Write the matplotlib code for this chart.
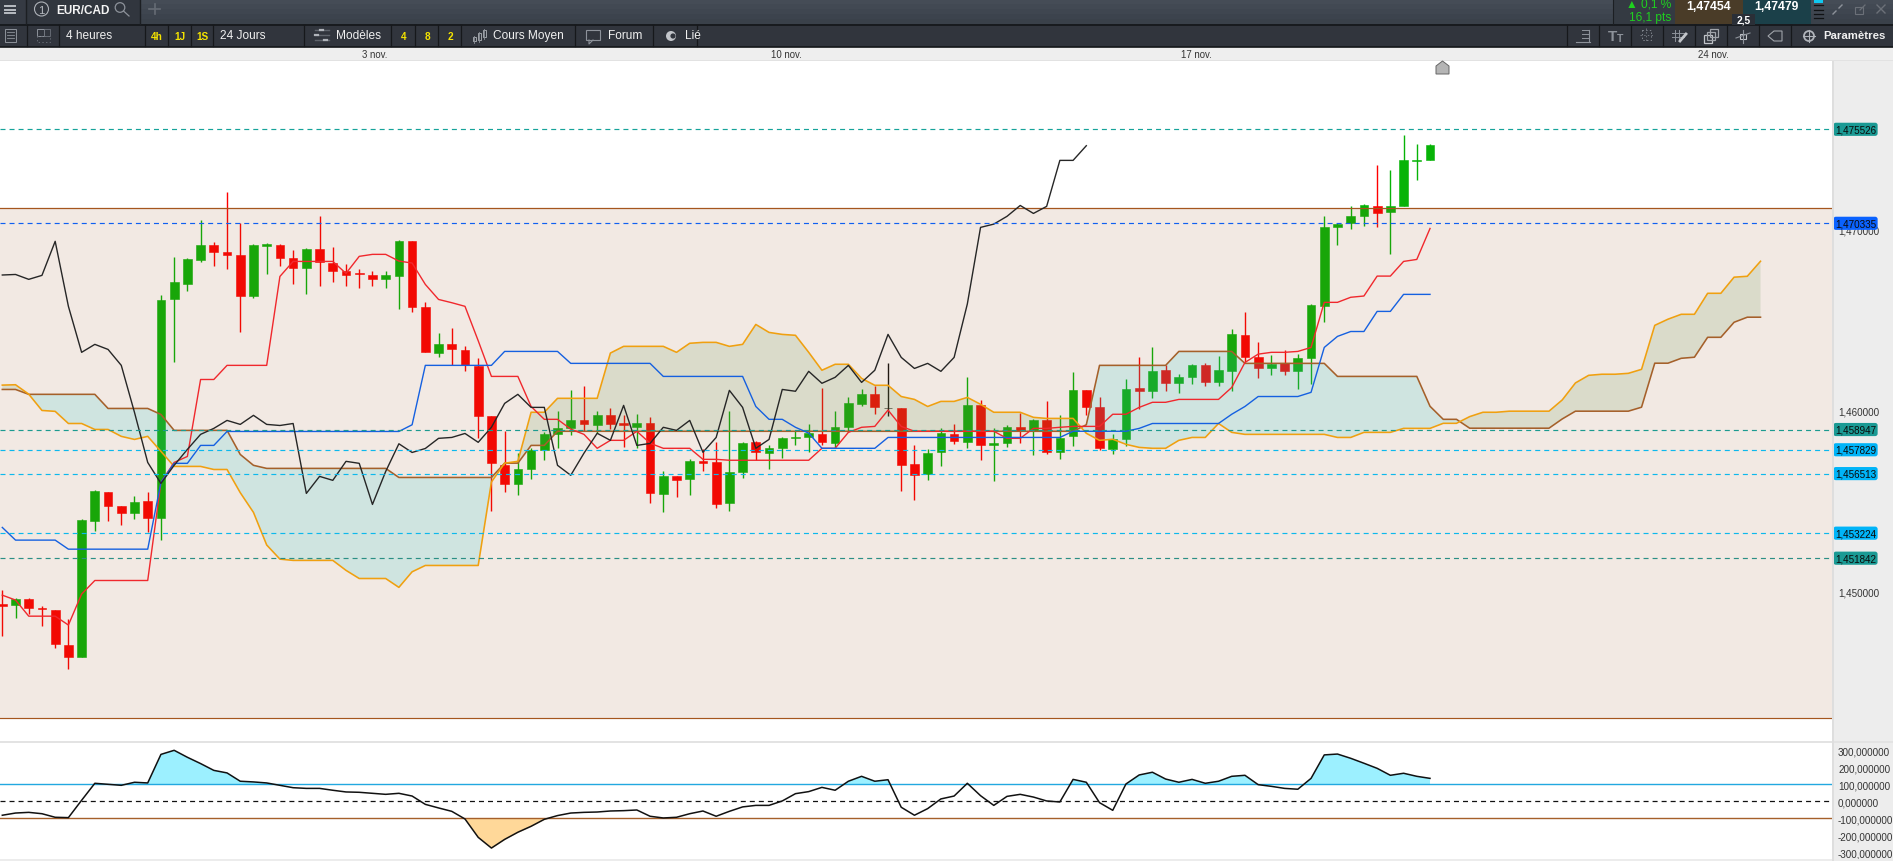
#!/usr/bin/env python3
"""EUR/CAD 4h candlesticks with Ichimoku cloud and CCI, drawn as the trading platform screen."""

import matplotlib
matplotlib.use("Agg")
import matplotlib.pyplot as plt
import numpy as np
from matplotlib.patches import Circle, Polygon, Rectangle

plt.rcParams["font.family"] = ["Liberation Sans", "DejaVu Sans"]
plt.rcParams["lines.scale_dashes"] = False

candle_open = [
    1.44931, 1.44925, 1.44958, 1.44910, 1.44898, 1.44704, 1.44640, 1.45391, 1.45549, 1.45472,
    1.45435, 1.45500, 1.45408, 1.46617, 1.46700, 1.46832, 1.46913, 1.46875, 1.46858, 1.46633,
    1.46908, 1.46913, 1.46842, 1.46788, 1.46891, 1.46814, 1.46770, 1.46759, 1.46748, 1.46727,
    1.46744, 1.46935, 1.46571, 1.46319, 1.46367, 1.46333, 1.46247, 1.45969, 1.45698, 1.45593,
    1.45676, 1.45781, 1.45869, 1.45903, 1.45947, 1.45919, 1.45974, 1.45930, 1.45908, 1.45930,
    1.45538, 1.45638, 1.45621, 1.45720, 1.45715, 1.45488, 1.45660, 1.45825, 1.45765, 1.45792,
    1.45849, 1.45853, 1.45869, 1.45820, 1.45908, 1.46035, 1.46090, 1.46016, 1.46013, 1.45704,
    1.45649, 1.45770, 1.45869, 1.45825, 1.46030, 1.45809, 1.45820, 1.45908, 1.45886, 1.45947,
    1.45770, 1.45858, 1.46112, 1.46019, 1.45787, 1.45842, 1.46123, 1.46107, 1.46223, 1.46151,
    1.46184, 1.46251, 1.46157, 1.46217, 1.46416, 1.46295, 1.46234, 1.46262, 1.46217, 1.46289,
    1.46578, 1.47014, 1.47035, 1.47075, 1.47127, 1.47097, 1.47129, 1.47379, 1.47383,
]
candle_close = [
    1.44922, 1.44958, 1.44910, 1.44905, 1.44712, 1.44640, 1.45395, 1.45555, 1.45474, 1.45435,
    1.45494, 1.45408, 1.46610, 1.46709, 1.46836, 1.46913, 1.46876, 1.46860, 1.46633, 1.46913,
    1.46919, 1.46843, 1.46788, 1.46891, 1.46821, 1.46772, 1.46749, 1.46755, 1.46727, 1.46748,
    1.46935, 1.46573, 1.46324, 1.46367, 1.46341, 1.46251, 1.45971, 1.45709, 1.45593, 1.45676,
    1.45781, 1.45869, 1.45903, 1.45947, 1.45925, 1.45974, 1.45925, 1.45919, 1.45930, 1.45544,
    1.45638, 1.45615, 1.45720, 1.45709, 1.45483, 1.45660, 1.45820, 1.45770, 1.45792, 1.45847,
    1.45853, 1.45875, 1.45825, 1.45908, 1.46041, 1.46090, 1.46019, 1.46016, 1.45700, 1.45643,
    1.45765, 1.45875, 1.45831, 1.46030, 1.45809, 1.45820, 1.45908, 1.45886, 1.45947, 1.45770,
    1.45847, 1.46112, 1.46019, 1.45792, 1.45842, 1.46118, 1.46107, 1.46217, 1.46151, 1.46184,
    1.46251, 1.46157, 1.46223, 1.46422, 1.46295, 1.46234, 1.46256, 1.46217, 1.46289, 1.46582,
    1.47013, 1.47027, 1.47074, 1.47134, 1.47092, 1.47127, 1.47383, 1.47383, 1.47465,
]
candle_high = [
    1.45010, 1.44962, 1.44962, 1.44918, 1.44898, 1.44848, 1.45400, 1.45558, 1.45549, 1.45472,
    1.45527, 1.45549, 1.46637, 1.46847, 1.46842, 1.47051, 1.46930, 1.47206, 1.47035, 1.46919,
    1.46924, 1.46919, 1.46886, 1.46897, 1.47073, 1.46902, 1.46808, 1.46781, 1.46770, 1.46770,
    1.46941, 1.46935, 1.46599, 1.46427, 1.46455, 1.46356, 1.46289, 1.45969, 1.45886, 1.45765,
    1.45792, 1.45881, 1.45996, 1.46112, 1.46135, 1.45996, 1.46013, 1.45974, 1.45980, 1.45963,
    1.45665, 1.45638, 1.45731, 1.45787, 1.45825, 1.45996, 1.45825, 1.45831, 1.45809, 1.45853,
    1.45886, 1.45925, 1.46123, 1.45996, 1.46074, 1.46118, 1.46135, 1.46262, 1.46013, 1.45809,
    1.45787, 1.45903, 1.45925, 1.46184, 1.46057, 1.45903, 1.45919, 1.45985, 1.45952, 1.46052,
    1.45974, 1.46212, 1.46112, 1.46074, 1.45869, 1.46173, 1.46295, 1.46350, 1.46251, 1.46201,
    1.46256, 1.46262, 1.46300, 1.46449, 1.46543, 1.46378, 1.46306, 1.46333, 1.46311, 1.46588,
    1.47074, 1.47035, 1.47127, 1.47140, 1.47355, 1.47327, 1.47521, 1.47471, 1.47471,
]
candle_low = [
    1.44756, 1.44855, 1.44876, 1.44811, 1.44690, 1.44572, 1.44640, 1.45336, 1.45391, 1.45369,
    1.45402, 1.45330, 1.45286, 1.46269, 1.46661, 1.46821, 1.46799, 1.46783, 1.46435, 1.46622,
    1.46755, 1.46799, 1.46700, 1.46645, 1.46689, 1.46711, 1.46689, 1.46678, 1.46689, 1.46678,
    1.46562, 1.46545, 1.46324, 1.46297, 1.46251, 1.46219, 1.45849, 1.45446, 1.45551, 1.45534,
    1.45621, 1.45726, 1.45792, 1.45864, 1.45886, 1.45875, 1.45897, 1.45798, 1.45792, 1.45488,
    1.45439, 1.45522, 1.45533, 1.45665, 1.45461, 1.45444, 1.45626, 1.45726, 1.45676, 1.45737,
    1.45809, 1.45770, 1.45809, 1.45792, 1.45881, 1.46024, 1.45980, 1.45969, 1.45555, 1.45505,
    1.45615, 1.45693, 1.45814, 1.45792, 1.45726, 1.45610, 1.45798, 1.45820, 1.45754, 1.45759,
    1.45731, 1.45803, 1.45974, 1.45781, 1.45759, 1.45803, 1.46008, 1.46068, 1.46107, 1.46096,
    1.46146, 1.46135, 1.46135, 1.46107, 1.46265, 1.46179, 1.46195, 1.46195, 1.46118, 1.46146,
    1.46490, 1.46913, 1.47003, 1.47020, 1.47014, 1.46863, 1.47127, 1.47272, 1.47383,
]

tenkan = [
    1.44980, 1.44953, 1.44864, 1.44864, 1.44864, 1.44815, 1.44986, 1.45061, 1.45061, 1.45061,
    1.45061, 1.45061, 1.45603, 1.45713, 1.45746, 1.46171, 1.46171, 1.46249, 1.46249, 1.46249,
    1.46249, 1.46740, 1.46823, 1.46823, 1.46823, 1.46823, 1.46757, 1.46851, 1.46862, 1.46862,
    1.46825, 1.46814, 1.46696, 1.46613, 1.46595, 1.46575, 1.46385, 1.46188, 1.46188, 1.46188,
    1.46022, 1.45951, 1.45951, 1.45897, 1.45868, 1.45791, 1.45835, 1.45835, 1.45885, 1.45819,
    1.45791, 1.45791, 1.45791, 1.45730, 1.45730, 1.45725, 1.45725, 1.45725, 1.45725, 1.45725,
    1.45725, 1.45725, 1.45791, 1.45791, 1.45879, 1.45907, 1.45912, 1.46002, 1.45912, 1.45885,
    1.45885, 1.45885, 1.45885, 1.45885, 1.45885, 1.45885, 1.45846, 1.45846, 1.45901, 1.45901,
    1.45907, 1.45912, 1.45912, 1.45912, 1.45979, 1.45979, 1.46017, 1.46045, 1.46045, 1.46061,
    1.46061, 1.46061, 1.46061, 1.46127, 1.46265, 1.46311, 1.46321, 1.46321, 1.46326, 1.46348,
    1.46597, 1.46597, 1.46625, 1.46632, 1.46742, 1.46742, 1.46823, 1.46834, 1.47005,
]
kijun = [
    1.45354, 1.45284, 1.45284, 1.45284, 1.45284, 1.45234, 1.45234, 1.45234, 1.45234, 1.45234,
    1.45234, 1.45234, 1.45603, 1.45708, 1.45708, 1.45807, 1.45807, 1.45884, 1.45884, 1.45884,
    1.45884, 1.45884, 1.45884, 1.45884, 1.45884, 1.45884, 1.45884, 1.45884, 1.45884, 1.45884,
    1.45884, 1.45921, 1.46249, 1.46249, 1.46249, 1.46249, 1.46249, 1.46249, 1.46326, 1.46326,
    1.46326, 1.46326, 1.46326, 1.46260, 1.46260, 1.46260, 1.46260, 1.46260, 1.46260, 1.46260,
    1.46188, 1.46188, 1.46188, 1.46188, 1.46188, 1.46188, 1.46188, 1.46022, 1.45951, 1.45951,
    1.45907, 1.45875, 1.45791, 1.45791, 1.45791, 1.45791, 1.45791, 1.45851, 1.45851, 1.45851,
    1.45851, 1.45851, 1.45851, 1.45851, 1.45851, 1.45851, 1.45851, 1.45851, 1.45851, 1.45851,
    1.45851, 1.45885, 1.45885, 1.45885, 1.45885, 1.45885, 1.45901, 1.45928, 1.45928, 1.45928,
    1.45928, 1.45928, 1.45928, 1.45979, 1.46022, 1.46077, 1.46077, 1.46077, 1.46077, 1.46100,
    1.46348, 1.46409, 1.46436, 1.46436, 1.46547, 1.46547, 1.46641, 1.46641, 1.46641,
]
chikou = [
    1.46748, 1.46751, 1.46724, 1.46746, 1.46934, 1.46575, 1.46321, 1.46365, 1.46337, 1.46249,
    1.45989, 1.45713, 1.45597, 1.45697, 1.45785, 1.45868, 1.45901, 1.45945, 1.45923, 1.45973,
    1.45923, 1.45917, 1.45928, 1.45542, 1.45636, 1.45614, 1.45719, 1.45708, 1.45481, 1.45663,
    1.45816, 1.45768, 1.45790, 1.45846, 1.45851, 1.45873, 1.45824, 1.45907, 1.46039, 1.46089,
    1.46017, 1.46017, 1.45697, 1.45642, 1.45764, 1.45874, 1.45835, 1.46028, 1.45807, 1.45818,
    1.45907, 1.45890, 1.45945, 1.45769, 1.45851, 1.46111, 1.46017, 1.45791, 1.45840, 1.46116,
    1.46106, 1.46216, 1.46150, 1.46183, 1.46249, 1.46155, 1.46222, 1.46420, 1.46293, 1.46232,
    1.46260, 1.46216, 1.46293, 1.46588, 1.47011, 1.47029, 1.47072, 1.47132, 1.47088, 1.47127,
    1.47381, 1.47381, 1.47462,
]
span_a = [
    1.46140, 1.46142, 1.46090, 1.46000, 1.45995, 1.45928, 1.45928, 1.45895, 1.45895, 1.45857,
    1.45840, 1.45857, 1.45774, 1.45691, 1.45691, 1.45691, 1.45674, 1.45674, 1.45546, 1.45437,
    1.45257, 1.45179, 1.45172, 1.45172, 1.45172, 1.45172, 1.45117, 1.45072, 1.45072, 1.45072,
    1.45023, 1.45109, 1.45144, 1.45144, 1.45144, 1.45144, 1.45144, 1.45605, 1.45709, 1.45719,
    1.45990, 1.45990, 1.46067, 1.46067, 1.46067, 1.46067, 1.46317, 1.46354, 1.46354, 1.46354,
    1.46354, 1.46321, 1.46371, 1.46376, 1.46376, 1.46354, 1.46365, 1.46475, 1.46431, 1.46420,
    1.46415, 1.46321, 1.46222, 1.46255, 1.46255, 1.46177, 1.46139, 1.46139, 1.46077, 1.46061,
    1.46022, 1.46050, 1.46050, 1.46072, 1.46034, 1.45990, 1.45990, 1.45990, 1.45962, 1.45956,
    1.45956, 1.45956, 1.45874, 1.45835, 1.45841, 1.45813, 1.45796, 1.45791, 1.45791, 1.45835,
    1.45851, 1.45851, 1.45928, 1.45879, 1.45868, 1.45868, 1.45868, 1.45868, 1.45868, 1.45868,
    1.45868, 1.45851, 1.45851, 1.45879, 1.45879, 1.45879, 1.45901, 1.45901, 1.45901, 1.45929,
    1.45929, 1.45966, 1.45990, 1.45990, 1.45996, 1.45996, 1.45996, 1.45996, 1.46058, 1.46152,
    1.46194, 1.46200, 1.46200, 1.46205, 1.46227, 1.46470, 1.46504, 1.46531, 1.46531, 1.46647,
    1.46647, 1.46736, 1.46741, 1.46824,
]
span_b = [
    1.46116, 1.46116, 1.46089, 1.46089, 1.46089, 1.46089, 1.46089, 1.46089, 1.46011, 1.46011,
    1.46011, 1.46011, 1.45978, 1.45890, 1.45890, 1.45890, 1.45890, 1.45890, 1.45757, 1.45697,
    1.45680, 1.45680, 1.45680, 1.45680, 1.45680, 1.45680, 1.45680, 1.45680, 1.45680, 1.45680,
    1.45630, 1.45630, 1.45630, 1.45630, 1.45630, 1.45630, 1.45630, 1.45630, 1.45709, 1.45709,
    1.45807, 1.45807, 1.45885, 1.45885, 1.45885, 1.45885, 1.45885, 1.45885, 1.45885, 1.45885,
    1.45885, 1.45885, 1.45885, 1.45885, 1.45885, 1.45885, 1.45885, 1.45885, 1.45885, 1.45885,
    1.45885, 1.45885, 1.45885, 1.45885, 1.45885, 1.45885, 1.45885, 1.45885, 1.45885, 1.45885,
    1.45885, 1.45885, 1.45885, 1.45885, 1.45885, 1.45885, 1.45885, 1.45885, 1.45885, 1.45885,
    1.45885, 1.45885, 1.45921, 1.46249, 1.46249, 1.46249, 1.46249, 1.46249, 1.46249, 1.46326,
    1.46326, 1.46326, 1.46326, 1.46326, 1.46260, 1.46260, 1.46260, 1.46260, 1.46260, 1.46260,
    1.46260, 1.46188, 1.46188, 1.46188, 1.46188, 1.46188, 1.46188, 1.46188, 1.46023, 1.45951,
    1.45951, 1.45902, 1.45902, 1.45902, 1.45902, 1.45902, 1.45902, 1.45902, 1.45953, 1.45996,
    1.45996, 1.45996, 1.45996, 1.45996, 1.46018, 1.46261, 1.46261, 1.46288, 1.46294, 1.46404,
    1.46404, 1.46487, 1.46515, 1.46515,
]
cci = [
    -82, -69, -65, -73, -94, -96, 6, 106, 100, 94,
    112, 108, 276, 300, 259, 222, 182, 167, 118, 114,
    108, 94, 80, 76, 76, 65, 55, 53, 47, 41,
    47, 31, -18, -39, -59, -104, -212, -275, -224, -182,
    -147, -106, -84, -69, -65, -63, -57, -55, -51, -88,
    -98, -94, -73, -57, -88, -59, -33, -24, -24, 2,
    45, 57, 82, 65, 118, 147, 118, 127, -35, -82,
    -43, 14, 31, 106, 33, -24, 29, 41, 25, 2,
    -4, 129, 112, -8, -53, 102, 155, 171, 131, 112,
    129, 106, 118, 147, 153, 98, 88, 76, 71, 135,
    273, 278, 253, 224, 194, 153, 165, 147, 135,
]

level_values = [1.475526, 1.470335, 1.458947, 1.457829, 1.456513, 1.453224, 1.451842]
level_colors = ["#16a39a", "#1060f0", "#1c9a90", "#0db8ec", "#0db8ec", "#0db8ec", "#2b8f85"]
level_badges = ["#1a9a94", "#0a62ff", "#1a9a94", "#00b4f8", "#00b4f8", "#00b4f8", "#1a9a94"]
zone_top = 1.4712
zone_bottom = 1.4430
price_ticks = [1.45, 1.46, 1.47]
cci_ticks = [300, 200, 100, 0, -100, -200, -300]

date_labels = ["3 nov.", "10 nov.", "17 nov.", "24 nov."]
date_positions = [375, 786, 1196, 1713]

W, H = 1893, 862
CHART_RIGHT = 1831.5


def comma(value):
    return f"{value:.6f}".replace(".", ",")


def make_axes(fig, top, bottom):
    ax = fig.add_axes([0, 1 - bottom / H, CHART_RIGHT / W, (bottom - top) / H])
    ax.set_facecolor("white")
    for spine in ax.spines.values():
        spine.set_visible(False)
    ax.set_xticks([])
    ax.yaxis.tick_right()
    ax.tick_params(axis="y", length=0, pad=4.7, labelsize=7.1, labelcolor="#333333")
    ax.set_xlim(-0.174, 138.37)
    return ax


def draw_candles(ax):
    x = np.arange(len(candle_open))
    opens = np.array(candle_open)
    closes = np.array(candle_close)
    colors = []
    for o, c in zip(opens, closes):
        if c > o:
            colors.append("#07b307")
        elif c < o:
            colors.append("#ff0000")
        else:
            colors.append("#111111")
    ax.vlines(x, candle_low, candle_high, colors=colors, lw=1.0, zorder=2)
    ax.bar(x, closes - opens, bottom=opens, width=0.66, color=colors, edgecolor=colors, lw=0.4, zorder=2)


def draw_cloud(ax):
    x = np.arange(len(span_a))
    a = np.array(span_a)
    b = np.array(span_b)
    ax.fill_between(x, a, b, where=a >= b, interpolate=True, color="#5e9248", alpha=0.16, lw=0, zorder=4)
    ax.fill_between(x, a, b, where=a <= b, interpolate=True, color="#19cad1", alpha=0.16, lw=0, zorder=4)
    ax.plot(x, b, color="#a5602a", lw=1.15, zorder=5)
    ax.plot(x, a, color="#f0a010", lw=1.15, zorder=5)


def draw_price_panel(ax):
    draw_candles(ax)
    # zone sits over the candles, that is why they look duller inside it
    ax.axhspan(zone_bottom, zone_top, color="#9b501e", alpha=0.12, lw=0, zorder=3)
    ax.axhline(zone_top, color="#a5561e", lw=0.9, zorder=5)
    ax.axhline(zone_bottom, color="#a5561e", lw=0.85, zorder=5)
    draw_cloud(ax)

    ax.plot(np.arange(len(tenkan)), tenkan, color="#f0282d", lw=1.0, zorder=5)
    ax.plot(np.arange(len(kijun)), kijun, color="#1560e0", lw=1.0, zorder=5)
    ax.plot(np.arange(len(chikou)), chikou, color="#262626", lw=1.0, zorder=5)

    for value, color in zip(level_values, level_colors):
        ax.axhline(value, color=color, lw=0.85, linestyle=(0, (3.6, 2.9)), zorder=6)

    ax.set_ylim(1.441774, 1.479298)
    ax.set_yticks(price_ticks)
    ax.set_yticklabels([comma(v) for v in price_ticks])

    trans = ax.get_yaxis_transform()
    for value, badge in zip(level_values, level_badges):
        ax.text(1855.5 / CHART_RIGHT, value, comma(value), transform=trans, ha="center", va="center",
                fontsize=7.1, color="#0a0a0a", clip_on=False, zorder=20,
                bbox=dict(boxstyle="round,pad=0.16,rounding_size=0.25", fc=badge, ec="none"))


def draw_cci_panel(ax):
    x = np.arange(len(cci))
    values = np.array(cci, dtype=float)
    ax.fill_between(x, values, 100, where=values >= 100, interpolate=True, color="#9cf0ff", lw=0, zorder=2)
    ax.fill_between(x, values, -100, where=values <= -100, interpolate=True, color="#ffd899", lw=0, zorder=2)
    ax.axhline(100, color="#22a8e0", lw=1.0, zorder=3)
    ax.axhline(-100, color="#a5602a", lw=1.0, zorder=3)
    ax.axhline(0, color="#111111", lw=0.9, linestyle=(0, (3.6, 2.9)), zorder=3)
    ax.plot(x, values, color="#111111", lw=1.1, zorder=4)
    ax.set_ylim(-339.4, 343)
    ax.set_yticks(cci_ticks)
    ax.set_yticklabels([comma(v) for v in cci_ticks])


def bar_text(ov, x, y, text, color="#f0f0f0", size=8.6, weight="normal", ha="left"):
    ov.text(x, y, text, color=color, fontsize=size, fontweight=weight, ha=ha, va="center")


def draw_icons(ov):
    gray = "#8d929a"
    # hamburger
    for y in (7, 10.5, 14):
        ov.plot([5, 15], [y, y], color="#b8bcc2", lw=1.4)
    ov.add_patch(Circle((41.5, 10), 7, fc="none", ec="#aeb2b8", lw=0.8))
    bar_text(ov, 41.5, 10.5, "1", color="#b8bcc2", size=8, ha="center")
    # search
    ov.add_patch(Circle((120, 8.5), 4.8, fc="none", ec=gray, lw=0.9))
    ov.plot([123.5, 129], [12, 17], color=gray, lw=0.9)
    ov.plot([149, 160], [10, 10], color="#666c75", lw=1.2)
    ov.plot([154.5, 154.5], [5, 15], color="#666c75", lw=1.2)
    # list, layout
    ov.add_patch(Rectangle((4.5, 30), 11, 13, fc="none", ec=gray, lw=0.7))
    for y in (33, 36, 39):
        ov.plot([6.5, 13.5], [y, y], color=gray, lw=0.6)
    ov.add_patch(Rectangle((37, 29.5), 7, 7, fc="none", ec=gray, lw=0.7))
    ov.add_patch(Rectangle((44, 29.5), 6, 7, fc="none", ec="#6c717a", lw=0.6))
    ov.add_patch(Rectangle((37, 36.5), 13, 6.5, fc="none", ec="#6c717a", lw=0.6, ls=":"))
    # sliders
    for y, a in ((31, 320), (36, 315), (41, 324)):
        ov.plot([315, 329], [y, y], color="#5f646c", lw=1.0)
        ov.plot([a, a + 3], [y, y], color="#b0b4ba", lw=1.6)
    # small candles
    for x, top, bottom in ((474, 38, 42), (479, 34, 41), (484, 31, 38)):
        ov.plot([x, x], [top - 1.5, bottom + 1.5], color=gray, lw=0.6)
        ov.add_patch(Rectangle((x - 1.5, top), 3, bottom - top, fc="none", ec="#b0b4ba", lw=0.6))
    # speech bubble
    ov.add_patch(Rectangle((586, 31), 14, 10, fc="none", ec=gray, lw=0.8))
    ov.plot([589, 589, 593], [41, 45, 41], color=gray, lw=0.8)
    ov.add_patch(Circle((671, 37), 5, fc="#c2c5ca", ec="none"))
    ov.add_patch(Circle((673, 37), 2.6, fc="#31353d", ec="none"))

    # right toolbar
    ov.plot([1576, 1590], [43, 43], color=gray, lw=0.8)
    ov.plot([1589, 1589], [31, 43], color=gray, lw=0.8)
    for y in (31, 35, 39):
        ov.plot([1582, 1589], [y, y], color=gray, lw=0.7)
    bar_text(ov, 1608, 37, "T", color=gray, size=11, weight="bold")
    bar_text(ov, 1617, 38.5, "T", color=gray, size=7.5, weight="bold")
    ov.add_patch(Rectangle((1642, 31), 9, 10, fc="none", ec=gray, lw=0.6, ls=":"))
    ov.plot([1640, 1654], [36, 36], color=gray, lw=0.5, ls=":")
    ov.plot([1646, 1646], [29, 43], color=gray, lw=0.5, ls=":")
    for x in (1675, 1679):
        ov.plot([x, x], [31, 42], color=gray, lw=0.7)
    for y in (34, 38):
        ov.plot([1672, 1684], [y, y], color=gray, lw=0.7)
    ov.plot([1680, 1686], [42, 35], color="#c2c5ca", lw=2)
    ov.add_patch(Rectangle((1704, 36), 8, 8, fc="#31353d", ec="#c2c5ca", lw=0.9))
    ov.add_patch(Rectangle((1707, 33), 8, 8, fc="none", ec="#a0a4aa", lw=0.9))
    ov.add_patch(Rectangle((1710, 30), 8, 8, fc="none", ec="#a0a4aa", lw=0.9))
    ov.plot([1736, 1750], [39, 34], color=gray, lw=0.8)
    ov.plot([1743, 1743], [31, 44], color=gray, lw=0.8)
    ov.add_patch(Rectangle((1740, 35), 6, 5, fc="#31353d", ec="#c2c5ca", lw=0.8))
    ov.add_patch(Polygon([[1768, 37], [1774, 32], [1782, 32], [1782, 42], [1774, 42]], closed=True,
                         fc="none", ec="#a0a4aa", lw=0.8))
    ov.add_patch(Circle((1809, 37), 5, fc="none", ec="#b0b4ba", lw=1.3))
    for x1, x2, y1, y2 in ((1803, 1815, 37, 37), (1809, 1809, 31, 43)):
        ov.plot([x1, x2], [y1, y2], color="#b0b4ba", lw=0.8)
    ov.add_patch(Circle((1809, 37), 3.4, fc="#31353d", ec="none"))

    # window buttons
    ov.plot([1833, 1836], [15, 12], color=gray, lw=1.0)
    ov.plot([1839, 1842], [9, 6], color=gray, lw=1.0)
    ov.add_patch(Rectangle((1855, 8), 8, 7, fc="none", ec="#6b7078", lw=0.8))
    ov.plot([1860, 1865], [11, 6], color="#6b7078", lw=0.9)
    ov.plot([1877, 1885], [6, 14], color="#6b7078", lw=1.0)
    ov.plot([1877, 1885], [14, 6], color="#6b7078", lw=1.0)


def draw_chrome(fig):
    ov = fig.add_axes([0, 0, 1, 1], zorder=10)
    ov.patch.set_visible(False)
    ov.axis("off")
    ov.set_xlim(0, W)
    ov.set_ylim(H, 0)

    # top bars
    for i, color in enumerate(["#454c56", "#424953", "#3f4650", "#3c434d", "#3a414a"]):
        ov.add_patch(Rectangle((0, i * 5), W, 5, fc=color, ec="none", zorder=0))
    ov.add_patch(Rectangle((0, 25), W, 23, fc="#31353d", ec="none", zorder=0))
    ov.plot([0, W], [25.5, 25.5], color="#141619", lw=1.2, zorder=1)
    ov.plot([0, W], [47.5, 47.5], color="#141619", lw=1.2, zorder=1)
    ov.add_patch(Rectangle((0, 0), 25.5, 25, fc="#353a43", ec="none", zorder=0))
    ov.add_patch(Rectangle((25.5, 0), 114.5, 25, fc="#31363e", ec="none", zorder=0))
    ov.plot([140, 140], [0, 25], color="#1c1f23", lw=1, zorder=1)
    ov.plot([25.5, 25.5], [0, 25], color="#1c1f23", lw=1, zorder=1)

    # date strip and separators
    ov.add_patch(Rectangle((0, 48), W, 12.5, fc="#eeeeee", ec="none", zorder=0))
    ov.add_patch(Rectangle((0, 60.5), W, 1.8, fc="#e2e2e2", ec="none", zorder=0))
    ov.add_patch(Rectangle((0, 741.5), W, 2.5, fc="#e3e3e3", ec="none", zorder=1))
    ov.add_patch(Rectangle((0, 860), W, 2, fc="#ececec", ec="none", zorder=1))
    ov.add_patch(Rectangle((CHART_RIGHT, 62), 2, 800, fc="#dedede", ec="none", zorder=1))
    for label, x in zip(date_labels, date_positions):
        ov.text(x, 55.5, label, color="#333333", fontsize=6.9, ha="center", va="center")

    for x in (27, 59, 145, 168, 191, 213, 304, 391, 415, 438, 461, 575, 653, 697,
              1567, 1599, 1631, 1663, 1695, 1727, 1759, 1791):
        ov.plot([x, x], [26, 47], color="#16181b", lw=0.9, zorder=1)

    # toolbar text
    bar_text(ov, 56, 10.5, "EUR/CAD", color="#f4f4f4", size=8.5, weight="bold")
    bar_text(ov, 66, 36, "4 heures")
    bar_text(ov, 220, 36, "24 Jours")
    bar_text(ov, 336, 36, "Modèles")
    bar_text(ov, 493, 36, "Cours Moyen")
    bar_text(ov, 607.6, 36, "Forum")
    bar_text(ov, 685, 36, "Lié")
    bar_text(ov, 1823, 36, "Paramètres", size=8.2, weight="bold")
    for x, label in ((156.5, "4h"), (179.5, "1J"), (202.5, "1S"), (403.6, "4"), (427, "8"), (450, "2")):
        bar_text(ov, x, 37, label, color="#f5e400", size=7.2, weight="bold", ha="center")

    # quote boxes
    ov.add_patch(Rectangle((1613, 0), 62, 25, fc="#343a42", ec="none", zorder=0))
    ov.plot([1613, 1613], [0, 25], color="#1c1f23", lw=0.8, zorder=1)
    bar_text(ov, 1671, 4.5, "▲ 0,1 %", color="#1fd01f")
    ov.texts[-1].set_ha("right")
    bar_text(ov, 1671, 17.5, "16,1 pts", color="#1fd01f", ha="right")
    ov.add_patch(Rectangle((1675, 0), 68, 25, fc="#4a3c28", ec="none", zorder=0))
    ov.add_patch(Rectangle((1743, 0), 68, 25, fc="#1b4049", ec="none", zorder=0))
    bar_text(ov, 1709, 7.5, "1,47454", color="white", size=8.8, weight="bold", ha="center")
    bar_text(ov, 1776, 7.5, "1,47479", color="white", size=8.8, weight="bold", ha="center")
    ov.add_patch(Rectangle((1732, 15), 23, 10.5, fc="#2a2f37", ec="none", zorder=1))
    bar_text(ov, 1743.5, 20.5, "2,5", color="white", size=7.4, weight="bold", ha="center")
    ov.add_patch(Rectangle((1814, 0), 9, 3.5, fc="#10c8f0", ec="none", zorder=1))
    for y in (6, 10.5, 14.5, 19):
        ov.plot([1814, 1823], [y, y], color="#101214", lw=0.9, zorder=1)

    # marker at the top of the chart
    ov.add_patch(Polygon([[1436, 75], [1436, 67], [1442.5, 62], [1449, 67], [1449, 75]], closed=True,
                         fc="#b5b5b5", ec="#666666", lw=0.7, zorder=2))
    draw_icons(ov)


def main():
    fig = plt.figure(figsize=(W / 100, H / 100), dpi=100, facecolor="#ededed")
    price_ax = make_axes(fig, 62, 741.5)
    cci_ax = make_axes(fig, 744, 860)
    draw_price_panel(price_ax)
    draw_cci_panel(cci_ax)
    draw_chrome(fig)
    fig.savefig("out.png", dpi=100, facecolor=fig.get_facecolor())


if __name__ == "__main__":
    main()
